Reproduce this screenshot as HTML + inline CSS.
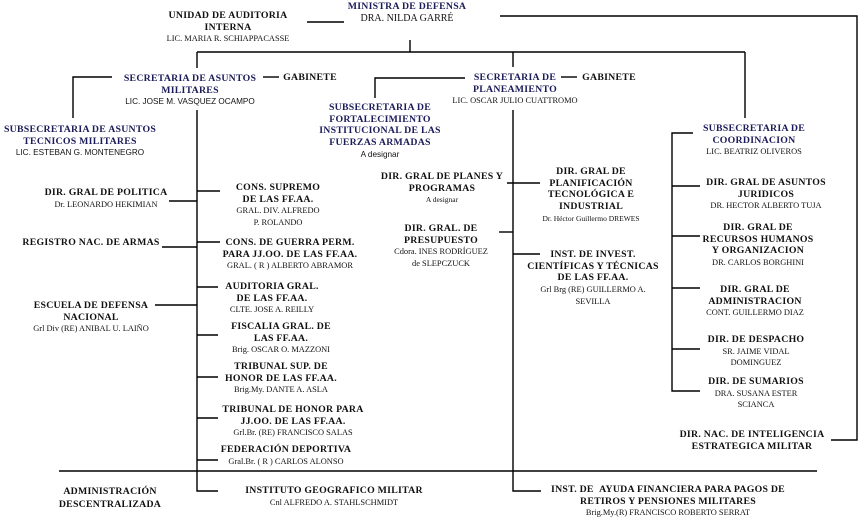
<!DOCTYPE html>
<html><head><meta charset="utf-8"><style>
body{margin:0;width:867px;height:519px;background:#fff;position:relative;overflow:hidden;font-family:"Liberation Serif",serif;color:#111}
.b{position:absolute;transform:translateX(-50%);text-align:center;white-space:nowrap;line-height:11.7px;font-size:8.4px;margin-top:1px}
.t{font-weight:bold;font-size:9.8px;letter-spacing:0.25px}
.n{color:#1c1c5a}
.s{font-family:"Liberation Sans",sans-serif;font-size:8.2px}
svg{position:absolute;left:0;top:0}
</style></head><body>
<svg width="867" height="519" stroke="#000" stroke-width="1.4" fill="none">
<line x1="307" y1="22" x2="344" y2="22"/>
<polyline points="500,16 857,16 857,440 831,440"/>
<line x1="410" y1="40" x2="410" y2="52"/>
<line x1="197" y1="52" x2="745" y2="52"/>
<line x1="197" y1="52" x2="197" y2="68"/>
<line x1="513" y1="52" x2="513" y2="67"/>
<line x1="745" y1="52" x2="745" y2="118"/>
<line x1="263" y1="77" x2="279" y2="77"/>
<line x1="561" y1="77" x2="577" y2="77"/>
<polyline points="112,77 73,77 73,118"/>
<polyline points="465,78 375,78 375,98"/>
<polyline points="197,110 197,491 218,491"/>
<line x1="169" y1="201" x2="197" y2="201"/>
<line x1="197" y1="191" x2="220" y2="191"/>
<line x1="162" y1="247" x2="197" y2="247"/>
<line x1="197" y1="242" x2="220" y2="242"/>
<line x1="197" y1="287" x2="218" y2="287"/>
<line x1="155" y1="305" x2="197" y2="305"/>
<line x1="197" y1="335" x2="218" y2="335"/>
<line x1="197" y1="377" x2="218" y2="377"/>
<line x1="197" y1="418" x2="218" y2="418"/>
<line x1="197" y1="460" x2="218" y2="460"/>
<line x1="59" y1="471" x2="817" y2="471"/>
<polyline points="513,110 513,491 541,491"/>
<line x1="507" y1="183" x2="540" y2="183"/>
<line x1="499" y1="232" x2="513" y2="232"/>
<line x1="513" y1="254" x2="540" y2="254"/>
<polyline points="693,133 672,133 672,391 700,391"/>
<line x1="672" y1="186" x2="700" y2="186"/>
<line x1="672" y1="236" x2="700" y2="236"/>
<line x1="672" y1="288" x2="700" y2="288"/>
<line x1="672" y1="349" x2="700" y2="349"/>
</svg>

<div class="b" style="left:228px;top:9px"><span class="t">UNIDAD DE AUDITORIA<br>INTERNA</span><br>LIC. MARIA R. SCHIAPPACASSE</div>
<div class="b" style="left:407px;top:0px"><span class="t n">MINISTRA DE DEFENSA</span><br><span style="font-size:10px">DRA. NILDA GARRÉ</span></div>

<div class="b" style="left:190px;top:72px"><span class="t n">SECRETARIA DE ASUNTOS<br>MILITARES</span><br><span class="s">LIC. JOSE M. VASQUEZ OCAMPO</span></div>
<div class="b t" style="left:310px;top:71px">GABINETE</div>
<div class="b" style="left:80px;top:123px"><span class="t n">SUBSECRETARIA DE ASUNTOS<br>TECNICOS MILITARES</span><br><span class="s">LIC. ESTEBAN G. MONTENEGRO</span></div>

<div class="b" style="left:106px;top:186px"><span class="t">DIR. GRAL DE POLITICA</span><br>Dr. LEONARDO HEKIMIAN</div>
<div class="b t" style="left:91px;top:236px">REGISTRO NAC. DE ARMAS</div>
<div class="b" style="left:91px;top:299px"><span class="t">ESCUELA DE DEFENSA<br>NACIONAL</span><br>Grl Div (RE) ANIBAL U. LAIÑO</div>

<div class="b" style="left:278px;top:181px"><span class="t">CONS. SUPREMO<br>DE LAS FF.AA.</span><br>GRAL. DIV. ALFREDO<br>P. ROLANDO</div>
<div class="b" style="left:290px;top:236px"><span class="t">CONS. DE GUERRA PERM.<br>PARA JJ.OO. DE LAS FF.AA.</span><br>GRAL. ( R ) ALBERTO ABRAMOR</div>
<div class="b" style="left:272px;top:280px"><span class="t">AUDITORIA GRAL.<br>DE LAS FF.AA.</span><br>CLTE. JOSE A. REILLY</div>
<div class="b" style="left:281px;top:320px"><span class="t">FISCALIA GRAL. DE<br>LAS FF.AA.</span><br>Brig. OSCAR O. MAZZONI</div>
<div class="b" style="left:281px;top:360px"><span class="t">TRIBUNAL SUP. DE<br>HONOR DE LAS FF.AA.</span><br>Brig.My. DANTE A. ASLA</div>
<div class="b" style="left:293px;top:403px"><span class="t">TRIBUNAL DE HONOR PARA<br>JJ.OO. DE LAS FF.AA.</span><br>Grl.Br. (RE) FRANCISCO SALAS</div>
<div class="b" style="left:286px;top:443px"><span class="t">FEDERACIÓN DEPORTIVA</span><br>Gral.Br. ( R ) CARLOS ALONSO</div>

<div class="b t" style="left:110px;top:484px;line-height:13px">ADMINISTRACIÓN<br>DESCENTRALIZADA</div>
<div class="b" style="left:334px;top:484px"><span class="t">INSTITUTO GEOGRAFICO MILITAR</span><br>Cnl ALFREDO A. STAHLSCHMIDT</div>

<div class="b" style="left:515px;top:71px"><span class="t n">SECRETARIA DE<br>PLANEAMIENTO</span><br>LIC. OSCAR JULIO CUATTROMO</div>
<div class="b t" style="left:609px;top:71px">GABINETE</div>
<div class="b" style="left:380px;top:101px"><span class="t n">SUBSECRETARIA DE<br>FORTALECIMIENTO<br>INSTITUCIONAL DE LAS<br>FUERZAS ARMADAS</span><br><span class="s">A designar</span></div>

<div class="b" style="left:442px;top:170px"><span class="t">DIR. GRAL DE PLANES Y<br>PROGRAMAS</span><br><span style="font-size:7.5px">A designar</span></div>
<div class="b" style="left:591px;top:165px"><span class="t">DIR. GRAL DE<br>PLANIFICACIÓN<br>TECNOLÓGICA E<br>INDUSTRIAL</span><br><span style="font-size:7.5px">Dr. Héctor Guillermo DREWES</span></div>
<div class="b" style="left:441px;top:222px"><span class="t">DIR. GRAL. DE<br>PRESUPUESTO</span><br>Cdora. INES RODRÍGUEZ<br>de SLEPCZUCK</div>
<div class="b" style="left:593px;top:248px"><span class="t">INST. DE INVEST.<br>CIENTÍFICAS Y TÉCNICAS<br>DE LAS FF.AA.</span><br>Grl Brg (RE) GUILLERMO A.<br>SEVILLA</div>
<div class="b" style="left:668px;top:483px"><span class="t">INST. DE &nbsp;AYUDA FINANCIERA PARA PAGOS DE<br>RETIROS Y PENSIONES MILITARES</span><br>Brig.My.(R) FRANCISCO ROBERTO SERRAT</div>

<div class="b" style="left:754px;top:122px"><span class="t n">SUBSECRETARIA DE<br>COORDINACION</span><br>LIC. BEATRIZ OLIVEROS</div>
<div class="b" style="left:766px;top:176px"><span class="t">DIR. GRAL DE ASUNTOS<br>JURIDICOS</span><br>DR. HECTOR ALBERTO TUJA</div>
<div class="b" style="left:758px;top:221px"><span class="t">DIR. GRAL DE<br>RECURSOS HUMANOS<br>Y ORGANIZACION</span><br>DR. CARLOS BORGHINI</div>
<div class="b" style="left:755px;top:283px"><span class="t">DIR. GRAL DE<br>ADMINISTRACION</span><br>CONT. GUILLERMO DIAZ</div>
<div class="b" style="left:756px;top:333px"><span class="t">DIR. DE DESPACHO</span><br>SR. JAIME VIDAL<br>DOMINGUEZ</div>
<div class="b" style="left:756px;top:375px"><span class="t">DIR. DE SUMARIOS</span><br>DRA. SUSANA ESTER<br>SCIANCA</div>
<div class="b t" style="left:752px;top:428px">DIR. NAC. DE INTELIGENCIA<br>ESTRATEGICA MILITAR</div>
</body></html>
